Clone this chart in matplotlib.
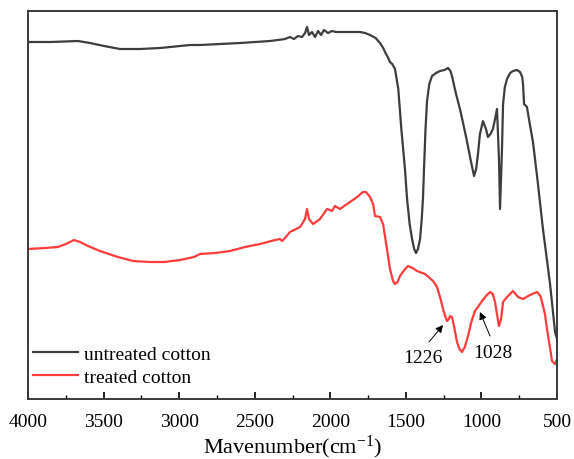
import matplotlib
matplotlib.use("Agg")
import matplotlib.pyplot as plt
from matplotlib.ticker import MultipleLocator

plt.rcParams["font.family"] = ["Liberation Serif", "DejaVu Serif"]
plt.rcParams["mathtext.default"] = "regular"

# untreated cotton: wavenumber (cm-1) and transmittance (a.u.)
wn_untreated = [4000, 3854, 3669, 3590, 3497, 3391, 3259, 3127, 2994, 2928, 2862, 2730,
                2597, 2498, 2399, 2346, 2300, 2267, 2240, 2214, 2187, 2167, 2154, 2141,
                2121, 2101, 2081, 2061, 2042, 2015, 1989, 1962, 1903, 1836, 1803, 1770,
                1737, 1700, 1671, 1650, 1638, 1620, 1605, 1590, 1572, 1550, 1530, 1506,
                1492, 1475, 1459, 1445, 1433, 1420, 1406, 1395, 1387, 1380, 1370, 1360,
                1345, 1327, 1300, 1274, 1245, 1221, 1205, 1195, 1168, 1142, 1120, 1096,
                1070, 1049, 1035, 1023, 1010, 990, 970, 957, 940, 924, 910, 897, 884,
                877, 864, 857, 845, 831, 810, 791, 765, 745, 730, 725, 718, 699, 680,
                659, 626, 593, 546, 513, 500]
t_untreated = [417, 417, 418, 416, 413, 410, 410, 411, 413, 414, 414, 415,
               416, 417, 418, 419, 420, 422, 420, 423, 422, 426, 432, 424,
               427, 422, 428, 424, 429, 426, 428, 427, 427, 427, 427, 426,
               424, 421, 416, 411, 407, 402, 397, 395, 390, 370, 330, 290,
               260, 235, 220, 210, 206, 210, 220, 240, 260, 290, 330, 358,
               375, 383, 386, 388, 389, 391, 388, 383, 365, 350, 335, 318,
               298, 283, 290, 305, 325, 338, 330, 322, 325, 330, 340, 350, 300,
               250, 310, 355, 372, 380, 386, 388, 389, 387, 382, 375, 355, 352, 335,
               317, 275, 230, 175, 127, 120]

# treated cotton
wn_treated = [4000, 3888, 3802, 3749, 3696, 3656, 3603, 3524, 3405, 3305, 3193, 3100,
              2994, 2902, 2862, 2763, 2664, 2564, 2465, 2366, 2333, 2319, 2300, 2267,
              2200, 2167, 2154, 2141, 2114, 2068, 2022, 2002, 1989, 1969, 1936, 1870,
              1823, 1784, 1764, 1737, 1717, 1704, 1671, 1651, 1625, 1605, 1585, 1572,
              1555, 1539, 1510, 1486, 1455, 1426, 1373, 1320, 1294, 1274, 1254, 1240,
              1228, 1215, 1208, 1195, 1180, 1162, 1145, 1129, 1110, 1089, 1065, 1043,
              1023, 996, 970, 943, 925, 910, 895, 884, 870, 857, 831, 791, 758, 725,
              679, 632, 610, 599, 580, 566, 533, 513, 500]
t_treated = [210, 211, 212, 215, 219, 217, 213, 208, 202, 198, 197, 197,
             199, 202, 205, 206, 208, 212, 215, 219, 220, 218, 221, 227,
             232, 240, 250, 240, 235, 240, 250, 249, 248, 253, 250, 257,
             262, 267, 267, 262, 255, 243, 242, 235, 210, 190, 178, 175,
             177, 183, 189, 193, 191, 188, 185, 178, 172, 162, 150, 143,
             138, 140, 143, 142, 132, 117, 110, 107, 112, 123, 138, 148,
             152, 158, 163, 167, 165, 157, 143, 133, 140, 157, 162, 168, 162, 160,
             164, 167, 163, 157, 145, 130, 98, 95, 100]

# annotations: label, arrow head, arrow tail, text position
peak_labels = ["1226", "1028"]
arrow_heads = [(1254, 134), (1010, 147)]
arrow_tails = [(1347, 117), (943, 123)]
label_pos = [(1387, 102), (924, 107)]

fig = plt.figure(figsize=(5.74, 4.60), dpi=100)
ax = fig.add_axes([0.0488, 0.1304, 0.9216, 0.8435])

ax.plot(wn_untreated, t_untreated, color="#3d3d3d", lw=1.6, label="untreated cotton")
ax.plot(wn_treated, t_treated, color="#ff3b3b", lw=1.6, label="treated cotton")

for lab, head, tail, pos in zip(peak_labels, arrow_heads, arrow_tails, label_pos):
    ax.annotate("", xy=head, xytext=tail,
                arrowprops=dict(arrowstyle="-|>", color="black", lw=0.7,
                                mutation_scale=11, shrinkA=0, shrinkB=0))
    ax.text(pos[0], pos[1], lab, fontsize=14, ha="center", va="center")

ax.set_xlim(4000, 500)
ax.set_ylim(60, 448)
ax.xaxis.set_major_locator(MultipleLocator(500))
ax.xaxis.set_minor_locator(MultipleLocator(250))
ax.set_yticks([])
ax.tick_params(axis="x", which="major", direction="in", length=5, width=1.2,
               labelsize=14, pad=10, top=False)
ax.tick_params(axis="x", which="minor", direction="in", length=3, width=1.0, top=False)
for s in ax.spines.values():
    s.set_color("#3a3a3a")
    s.set_linewidth(1.4)

ax.set_xlabel("Mavenumber(cm$^{-1}$)", fontsize=16, labelpad=2)

ax.legend(loc="center left", bbox_to_anchor=(0.0095, 0.086), frameon=False,
          fontsize=14, handlelength=2.3, handletextpad=0.3, labelspacing=0.3,
          borderpad=0, borderaxespad=0)

fig.savefig("out.png", dpi=100)
